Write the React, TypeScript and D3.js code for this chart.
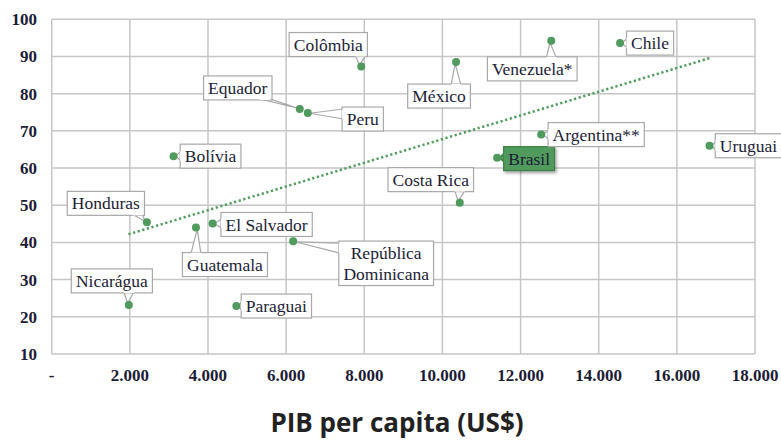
import React, { useEffect, useRef } from 'react';
import * as d3 from 'd3';

// PIB per capita (US$) x indicador (eixo y), por país
const countries = ['Nicarágua', 'Honduras', 'Bolívia', 'Guatemala', 'El Salvador', 'Paraguai', 'República Dominicana', 'Equador', 'Peru', 'Colômbia', 'México', 'Costa Rica', 'Brasil', 'Argentina**', 'Venezuela*', 'Chile', 'Uruguai'];
const pibPerCapita = [1974, 2436, 3118, 3692, 4118, 4726, 6180, 6349, 6554, 7923, 10349, 10444, 11400, 12528, 12785, 14546, 16836];
const indicator = [23.2, 45.4, 63.2, 44, 45.1, 22.9, 40.3, 75.9, 74.8, 87.3, 88.5, 50.7, 62.8, 69, 94.2, 93.6, 66];

// linha de tendência (pontos extremos)
const trendX = [1965, 16880];
const trendY = [42.2, 89.7];

const xTicks = [0, 2000, 4000, 6000, 8000, 10000, 12000, 14000, 16000, 18000];
const yTicks = [10, 20, 30, 40, 50, 60, 70, 80, 90, 100];

// posição das caixas de rótulo em relação ao ponto (px)
const labelOffsets: [number, number][] = [
  [-17, -24], [-41, -19], [37, 0], [29, 37], [54, 1], [40, 0], [93, 22], [-62, -21], [55, 6],
  [-33, -22], [-17, 34], [-29, -23], [32, 1], [55, 0], [-19, 28], [30, 0], [39, 0],
];

const width = 781;
const height = 440;
const margin = { top: 19.3, right: 26, bottom: 86, left: 51.7 };
const serif = '"Liberation Serif", "Times New Roman", Tinos, "DejaVu Serif", serif';

const App = () => {
  const ref = useRef<SVGSVGElement>(null);

  useEffect(() => {
    const svg = d3.select(ref.current);
    svg.selectAll('*').remove();

    const x = d3.scaleLinear().domain([0, 18000]).range([margin.left, width - margin.right]);
    const y = d3.scaleLinear().domain([10, 100]).range([height - margin.bottom, margin.top]);

    const textColor = '#1c1c36';
    const gridColor = '#c6c6c6';
    const green = '#4f9a5c';
    const fmt = (v: number) => (v === 0 ? '-' : d3.format(',')(v).replace(/,/g, '.'));

    const defs = svg.append('defs');
    const f = defs.append('filter').attr('id', 'shadow').attr('x', '-20%').attr('y', '-20%').attr('width', '150%').attr('height', '160%');
    f.append('feDropShadow').attr('dx', 1.5).attr('dy', 2).attr('stdDeviation', 1.5).attr('flood-color', '#000').attr('flood-opacity', 0.35);

    // grade
    const grid = svg.append('g').attr('stroke', gridColor).attr('stroke-width', 1.5);
    grid.selectAll('.gx').data(xTicks).join('line')
      .attr('x1', d => x(d)).attr('x2', d => x(d))
      .attr('y1', y(10)).attr('y2', y(100));
    grid.selectAll('.gy').data(yTicks).join('line')
      .attr('x1', x(0)).attr('x2', x(18000))
      .attr('y1', d => y(d)).attr('y2', d => y(d));

    // rótulos dos eixos
    svg.append('g').selectAll('text').data(yTicks).join('text')
      .attr('x', 37).attr('y', d => y(d)).attr('dy', '0.35em')
      .attr('text-anchor', 'end')
      .style('font-family', serif).attr('font-weight', 'bold').attr('font-size', 17)
      .attr('fill', textColor).text(d => d);
    svg.append('g').selectAll('text').data(xTicks).join('text')
      .attr('x', d => x(d)).attr('y', 381)
      .attr('text-anchor', 'middle')
      .style('font-family', serif).attr('font-weight', 'bold').attr('font-size', 17)
      .attr('fill', textColor).text(d => fmt(d));

    svg.append('text')
      .attr('x', 397).attr('y', 432).attr('text-anchor', 'middle')
      .style('font-family', '"Open Sans", sans-serif').attr('font-weight', 'bold').attr('font-size', 26)
      .attr('fill', '#222').text('PIB per capita (US$)');

    // linha de tendência
    svg.append('line')
      .attr('x1', x(trendX[0])).attr('y1', y(trendY[0]))
      .attr('x2', x(trendX[1])).attr('y2', y(trendY[1]))
      .attr('stroke', green).attr('stroke-width', 2.5).attr('stroke-dasharray', '2.2,2.6');

    // callouts
    const data = countries.map((name, i) => ({
      name, px: x(pibPerCapita[i]), py: y(indicator[i]), off: labelOffsets[i],
    }));

    const labels = svg.append('g');
    data.forEach(d => {
      const g = labels.append('g');
      const cx = d.px + d.off[0];
      const cy = d.py + d.off[1];
      const lines = d.name === 'República Dominicana' ? ['República', 'Dominicana'] : [d.name];
      const lh = 20.5;
      const txt = g.append('text')
        .style('font-family', serif).attr('font-size', 17.5)
        .attr('fill', textColor).attr('text-anchor', 'middle');
      lines.forEach((l, k) => {
        txt.append('tspan').attr('x', cx)
          .attr('y', cy + (k - (lines.length - 1) / 2) * lh)
          .attr('dy', '0.35em').text(l);
      });
      const bb = (txt.node() as SVGTextElement).getBBox();
      const w = bb.width + 9;
      const h = lines.length * lh + 3.5;
      const x0 = cx - w / 2, x1 = cx + w / 2, y0 = cy - h / 2, y1 = cy + h / 2;

      // cunha do balão em direção ao ponto
      const clamp = (v: number, a: number, b: number) => Math.max(a, Math.min(b, v));
      let base: [number, number][];
      const half = 5;
      if (d.py > y1) {
        const bx = clamp(d.px, x0 + half + 2, x1 - half - 2);
        base = [[bx - half, y1 - 1], [bx + half, y1 - 1]];
      } else if (d.py < y0) {
        const bx = clamp(d.px, x0 + half + 2, x1 - half - 2);
        base = [[bx - half, y0 + 1], [bx + half, y0 + 1]];
      } else if (d.px < x0) {
        const by = clamp(d.py, y0 + half + 2, y1 - half - 2);
        base = [[x0 + 1, by - half], [x0 + 1, by + half]];
      } else {
        const by = clamp(d.py, y0 + half + 2, y1 - half - 2);
        base = [[x1 - 1, by - half], [x1 - 1, by + half]];
      }
      const ang = Math.atan2(d.py - cy, d.px - cx);
      const tip: [number, number] = [d.px - Math.cos(ang) * 2, d.py - Math.sin(ang) * 2];
      const isBrasil = d.name === 'Brasil';
      const fill = isBrasil ? green : '#fff';
      const stroke = isBrasil ? '#3f7d49' : '#a8a8a8';

      g.insert('path', 'text')
        .attr('d', `M${base[0][0]},${base[0][1]}L${tip[0]},${tip[1]}L${base[1][0]},${base[1][1]}`)
        .attr('fill', fill).attr('stroke', stroke).attr('stroke-width', 1.2);
      g.insert('rect', 'text')
        .attr('x', x0).attr('y', y0).attr('width', w).attr('height', h)
        .attr('fill', fill).attr('stroke', stroke).attr('stroke-width', 1.2)
        .attr('filter', isBrasil ? 'url(#shadow)' : null);
      g.insert('path', 'text')
        .attr('d', `M${base[0][0]},${base[0][1]}L${base[1][0]},${base[1][1]}`)
        .attr('stroke', fill).attr('stroke-width', 2);
    });

    // pontos
    svg.append('g').selectAll('circle').data(data).join('circle')
      .attr('cx', d => d.px).attr('cy', d => d.py).attr('r', 4)
      .attr('fill', green);
  }, []);

  return (
    <svg ref={ref} width={width} height={height}
      style={{ position: 'absolute', left: 0, top: 0, background: '#fff' }} />
  );
};

export default App;
